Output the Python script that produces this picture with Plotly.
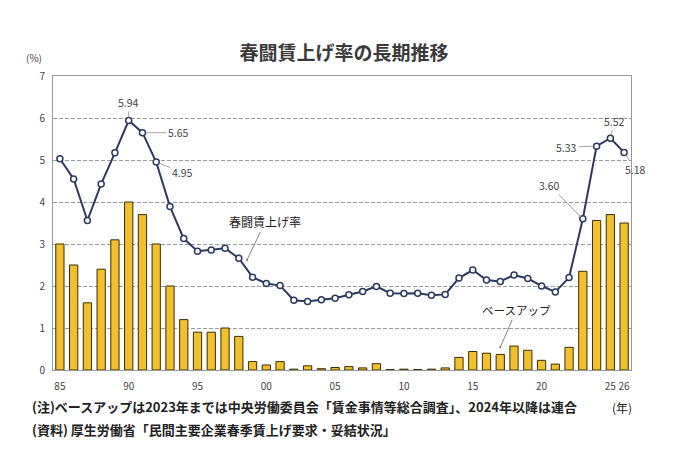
import plotly.graph_objects as go

# 春闘賃上げ率 (%) 1985-2026
years = list(range(1985, 2027))
wage_rate = [5.03, 4.55, 3.56, 4.43, 5.17, 5.94, 5.65, 4.95, 3.89, 3.13,
             2.83, 2.86, 2.90, 2.66, 2.21, 2.06, 2.01, 1.66, 1.63, 1.67,
             1.71, 1.79, 1.87, 1.99, 1.83, 1.82, 1.83, 1.78, 1.80, 2.19,
             2.38, 2.14, 2.11, 2.26, 2.18, 2.00, 1.86, 2.20, 3.60, 5.33,
             5.52, 5.18]
# ベースアップ (%)
base_up = [3.0, 2.5, 1.6, 2.4, 3.1, 4.0, 3.7, 3.0, 2.0, 1.2,
           0.9, 0.9, 1.0, 0.8, 0.2, 0.12, 0.2, 0.02, 0.1, 0.03,
           0.06, 0.08, 0.05, 0.15, 0.01, 0.02, 0.01, 0.02, 0.05, 0.3,
           0.44, 0.40, 0.37, 0.57, 0.47, 0.23, 0.14, 0.54, 2.35, 3.56,
           3.70, 3.50]

tick_years = [1985, 1990, 1995, 2000, 2005, 2010, 2015, 2020, 2025, 2026]
tick_text = ["85", "90", "95", "00", "05", "10", "15", "20", "25", "26"]

# labelled points: (year, text, ax, ay)
labels = [(1990, "5.94", 0, -18), (1991, "5.65", 36, 0), (1992, "4.95", 26, 10),
          (2023, "3.60", -33, -33), (2024, "5.33", -30, 1),
          (2025, "5.52", 4, -17), (2026, "5.18", 11, 17)]

FONT = "Noto Sans CJK JP"
GREY = "#444444"

fig = go.Figure()

fig.add_trace(go.Bar(x=years, y=base_up, name="ベースアップ",
                     marker=dict(color="#F2C02C", line=dict(color="#3b2c05", width=1)),
                     width=0.6))

fig.add_trace(go.Scatter(x=years, y=wage_rate, mode="lines+markers", name="春闘賃上げ率",
                         line=dict(color="#2d3a5e", width=2),
                         marker=dict(symbol="circle", size=6, color="white",
                                     line=dict(color="#2d3a5e", width=1.5))))

for yr, txt, ax, ay in labels:
    fig.add_annotation(x=yr, y=wage_rate[years.index(yr)], text=txt,
                       showarrow=True, arrowhead=0, arrowwidth=0.8, arrowcolor="#888888",
                       ax=ax, ay=ay, standoff=3,
                       font=dict(size=10.5, color=GREY, family=FONT))

# series callouts
fig.add_annotation(x=1998.6, y=2.62, text="春闘賃上げ率", showarrow=True,
                   arrowhead=6, arrowsize=0.6, arrowwidth=0.8, arrowcolor="#666666",
                   ax=18, ay=-38, font=dict(size=12, color="#222222", family=FONT))
fig.add_annotation(x=2017, y=0.54, text="ベースアップ", showarrow=True,
                   arrowhead=6, arrowsize=0.6, arrowwidth=0.8, arrowcolor="#666666",
                   ax=16, ay=-37, font=dict(size=11.5, color="#222222", family=FONT))

fig.add_annotation(xref="paper", yref="paper", x=-0.033, y=1.03, text="(%)",
                   showarrow=False, xanchor="center", yanchor="bottom",
                   font=dict(size=10, color=GREY, family=FONT))
fig.add_annotation(xref="paper", yref="paper", x=0.984, y=-0.162, text="(年)",
                   showarrow=False, xanchor="center",
                   font=dict(size=12, color="#222222", family=FONT))
fig.add_annotation(xref="paper", yref="paper", x=-0.04, y=-0.162,
                   text="(注)ベースアップは2023年までは中央労働委員会「賃金事情等総合調査」、2024年以降は連合",
                   showarrow=False, xanchor="left",
                   font=dict(size=13, color="#222222", family=FONT, weight="bold"))
fig.add_annotation(xref="paper", yref="paper", x=-0.04, y=-0.242,
                   text="(資料) 厚生労働省「民間主要企業春季賃上げ要求・妥結状況」",
                   showarrow=False, xanchor="left",
                   font=dict(size=13, color="#222222", family=FONT, weight="bold"))

# page has an 8px body margin, so the plot box is pulled up/left by 8px
fig.update_layout(
    width=680, height=474,
    margin=dict(l=45, r=57, t=68, b=112),
    paper_bgcolor="white", plot_bgcolor="white",
    showlegend=False,
    title=dict(text="春闘賃上げ率の長期推移", x=0.494, xanchor="center", y=0.905, yanchor="middle",
               font=dict(size=19, color="#3a3a3a", family=FONT, weight="bold")),
    font=dict(family=FONT, color=GREY),
)
fig.update_xaxes(range=[1984.5, 2026.5], tickvals=tick_years, ticktext=tick_text,
                 tickfont=dict(size=10, color=GREY), ticks="", ticklabelstandoff=7,
                 showgrid=False, showline=True, linecolor="#999999", mirror=True)
fig.update_yaxes(range=[0, 7], dtick=1, tickfont=dict(size=10, color=GREY),
                 ticklabelstandoff=5,
                 showgrid=True, gridcolor="#9a9a9a", griddash="4px,2px", gridwidth=1,
                 showline=True, linecolor="#999999", mirror=True, zeroline=False)

fig.write_html("out.html")
